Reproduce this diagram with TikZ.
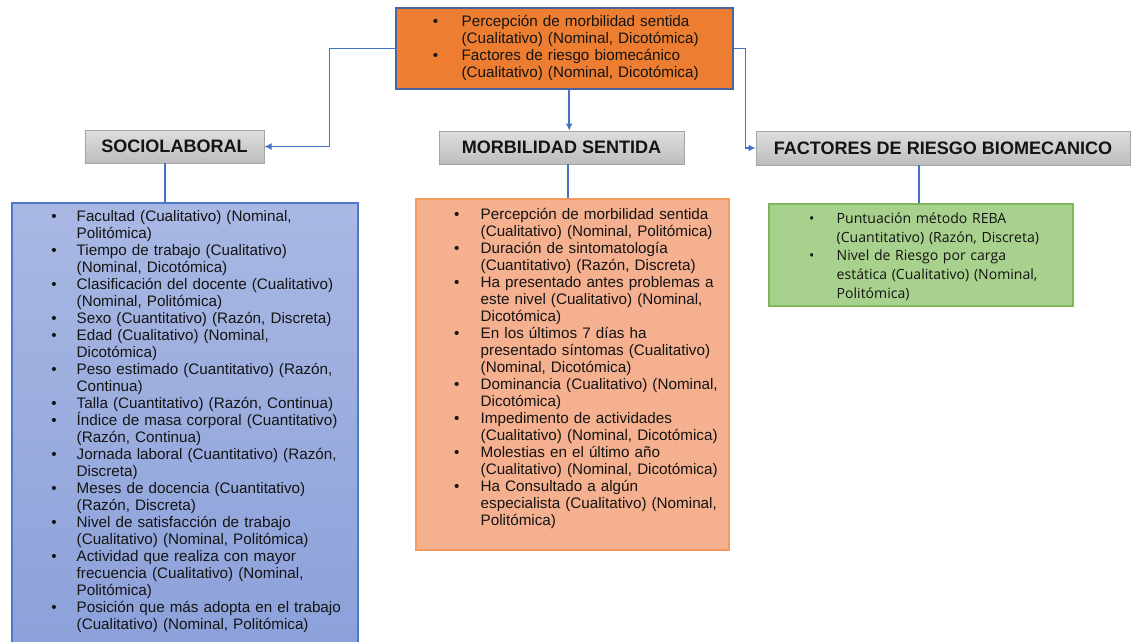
\documentclass[tikz,border=0pt]{standalone}
\usepackage{fontspec}
\setmainfont{Liberation Sans}
\newfontfamily\greenfont{Open Sans}
\usepackage{tikz}
\usetikzlibrary{arrows.meta,positioning}
\definecolor{topOrange}{HTML}{ED7D31}
\definecolor{topBorder}{HTML}{4A64A0}
\definecolor{headTop}{HTML}{DEDEDE}
\definecolor{headBot}{HTML}{BDBDBD}
\definecolor{headBorder}{HTML}{A5A5A5}
\definecolor{socioTop}{HTML}{A9B8E3}
\definecolor{socioBot}{HTML}{8CA1DA}
\definecolor{socioBorder}{HTML}{4F79CC}
\definecolor{morbFill}{HTML}{F5B08F}
\definecolor{morbBorder}{HTML}{F29A60}
\definecolor{factFill}{HTML}{A9D18E}
\definecolor{factBorder}{HTML}{7DB85A}
\definecolor{linkBlue}{HTML}{4472C4}
\definecolor{txt}{HTML}{141414}
% bullet list used inside the boxes
\newenvironment{varlist}[1]{\begin{list}{\textbullet}{%
	\setlength\labelwidth{0.2cm}\setlength\labelsep{#1}%
	\setlength\leftmargin{\dimexpr\labelwidth+\labelsep\relax}%
	\setlength\itemsep{0pt}\setlength\parsep{0pt}%
	\setlength\topsep{0pt}\setlength\partopsep{0pt}}\raggedright}{\end{list}}
\tikzset{
	treebox/.style = {rectangle, inner sep=0pt},
	arn_top/.style = {treebox, draw=topBorder, fill=topOrange, line width=1pt},
	arn_head/.style = {treebox, draw=headBorder, top color=headTop, bottom color=headBot, line width=0.8pt, text=txt, font=\fontsize{15.4}{18}\selectfont\bfseries},
	arn_socio/.style = {treebox, draw=socioBorder, top color=socioTop, bottom color=socioBot, line width=0.9pt},
	arn_morb/.style = {treebox, draw=morbBorder, fill=morbFill, line width=0.9pt},
	arn_fact/.style = {treebox, draw=factBorder, fill=factFill, line width=0.9pt},
	arn_list/.style = {inner sep=0pt, anchor=north west, text=txt, font=\fontsize{13}{14.5}\selectfont},
	link/.style = {draw=linkBlue, line width=1.3pt}
}

\begin{document}
\begin{tikzpicture}[x=0.03cm, y=-0.03cm, >={Latex[length=6pt,width=6pt]}]
	\clip (0,0) rectangle (1133,641);
	% boxes
	\node [arn_top, minimum width=10.11cm, minimum height=2.43cm] (top) at (564.5,48.5) {};
	\node [arn_head, minimum width=5.37cm, minimum height=0.99cm] (socio) at (174.5,146.5) {SOCIOLABORAL};
	\node [arn_head, minimum width=7.35cm, minimum height=0.99cm] (morb) at (561.5,147.5) {MORBILIDAD SENTIDA};
	\node [arn_head, minimum width=11.22cm, minimum height=1.02cm] (fact) at (943,148) {FACTORES DE RIESGO BIOMECANICO};
	\node [arn_socio, minimum width=10.38cm, minimum height=13.41cm] (socio_box) at (185,426.5) {};
	\node [arn_morb, minimum width=9.39cm, minimum height=10.53cm] (morb_box) at (572.5,374.5) {};
	\node [arn_fact, minimum width=9.12cm, minimum height=3.06cm] (fact_box) at (921,255) {};
	% box texts
	\node [arn_list, text width=8.6cm] (top_txt) at ([xshift=1.08cm, yshift=-0.05cm]top.north west) {
		\begin{varlist}{0.7cm}
			\item Percepción de morbilidad sentida\\(Cualitativo) (Nominal, Dicotómica)
			\item Factores de riesgo biomecánico\\(Cualitativo) (Nominal, Dicotómica)
		\end{varlist}};
	\node [arn_list, text width=9.2cm] (socio_txt) at ([xshift=1.15cm, yshift=-0.05cm]socio_box.north west) {
		\begin{varlist}{0.6cm}
			\item Facultad (Cualitativo) (Nominal,\\Politómica)
			\item Tiempo de trabajo (Cualitativo)\\(Nominal, Dicotómica)
			\item Clasificación del docente (Cualitativo)\\(Nominal, Politómica)
			\item Sexo (Cuantitativo) (Razón, Discreta)
			\item Edad (Cualitativo) (Nominal,\\Dicotómica)
			\item Peso estimado (Cuantitativo) (Razón,\\Continua)
			\item Talla (Cuantitativo) (Razón, Continua)
			\item Índice de masa corporal (Cuantitativo)\\(Razón, Continua)
			\item Jornada laboral (Cuantitativo) (Razón,\\Discreta)
			\item Meses de docencia (Cuantitativo)\\(Razón, Discreta)
			\item Nivel de satisfacción de trabajo\\(Cualitativo) (Nominal, Politómica)
			\item Actividad que realiza con mayor\\frecuencia (Cualitativo) (Nominal,\\Politómica)
			\item Posición que más adopta en el trabajo\\(Cualitativo) (Nominal, Politómica)
		\end{varlist}};
	\node [arn_list, text width=8.6cm] (morb_txt) at ([xshift=1.11cm, yshift=-0.11cm]morb_box.north west) {
		\begin{varlist}{0.64cm}
			\item Percepción de morbilidad sentida\\(Cualitativo) (Nominal, Politómica)
			\item Duración de sintomatología\\(Cuantitativo) (Razón, Discreta)
			\item Ha presentado antes problemas a\\este nivel (Cualitativo) (Nominal,\\Dicotómica)
			\item En los últimos 7 días ha\\presentado síntomas (Cualitativo)\\(Nominal, Dicotómica)
			\item Dominancia (Cualitativo) (Nominal,\\Dicotómica)
			\item Impedimento de actividades\\(Cualitativo) (Nominal, Dicotómica)
			\item Molestias en el último año\\(Cualitativo) (Nominal, Dicotómica)
			\item Ha Consultado a algún\\especialista (Cualitativo) (Nominal,\\Politómica)
		\end{varlist}};
	\node [arn_list, text width=8.2cm, font=\greenfont\fontsize{12}{16.2}\selectfont] (fact_txt) at ([xshift=1.17cm, yshift=-0.01cm]fact_box.north west) {
		\begin{varlist}{0.67cm}
			\item Puntuación método REBA\\(Cuantitativo) (Razón, Discreta)
			\item Nivel de Riesgo por carga\\estática (Cualitativo) (Nominal,\\Politómica)
		\end{varlist}};
	% connectors
	\coordinate (mid_out) at ([xshift=0.14cm]top.south);
	\coordinate (socio_out) at ([xshift=-0.285cm]socio.south);
	\coordinate (morb_out) at ([xshift=0.2cm]morb.south);
	\coordinate (fact_out) at ([xshift=-0.72cm]fact.south);
	\draw [link,->] (top.west) -- ++(-66,0) |- (socio.east);
	\draw [link,->] (top.east) -- ++(12,0) |- (fact.west);
	\draw [link,->] (mid_out) -- (mid_out |- morb.north);
	\draw [link] (socio_out) -- (socio_out |- socio_box.north);
	\draw [link] (morb_out) -- (morb_out |- morb_box.north);
	\draw [link] (fact_out) -- (fact_out |- fact_box.north);
\end{tikzpicture}
\end{document}
